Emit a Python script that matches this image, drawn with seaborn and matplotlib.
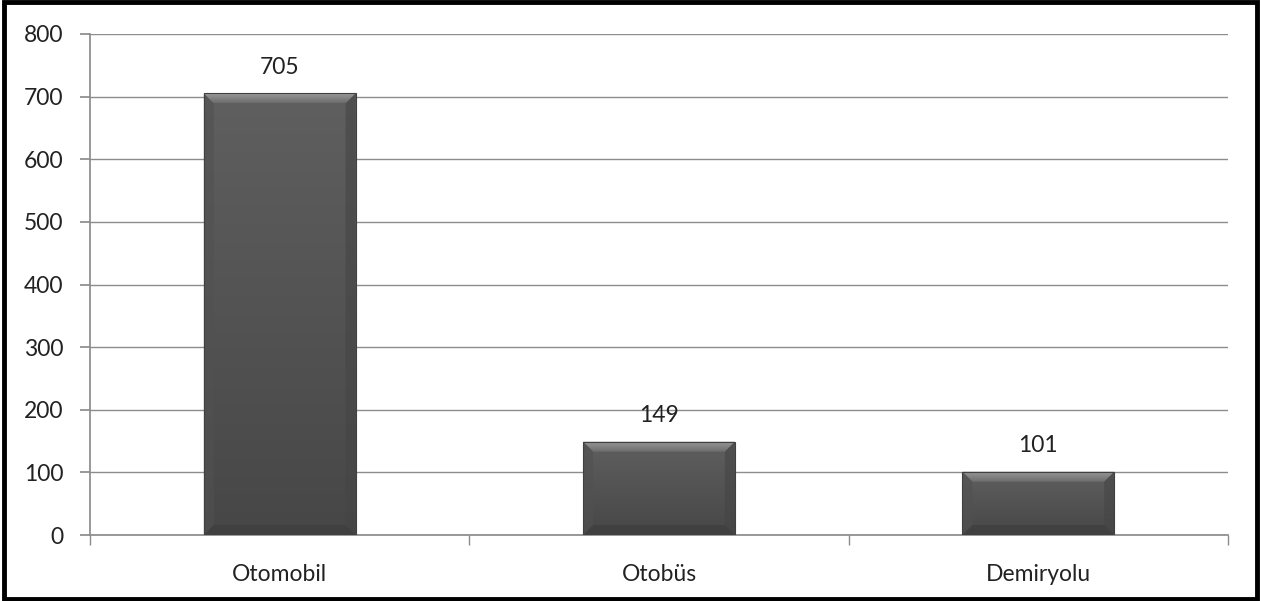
import matplotlib
matplotlib.use("Agg")
import matplotlib.pyplot as plt
import matplotlib.patches as mpatches
import numpy as np
import seaborn as sns
import pandas as pd

categories = ["Otomobil", "Otobüs", "Demiryolu"]
values = [705, 149, 101]
yticks = [0, 100, 200, 300, 400, 500, 600, 700, 800]

sns.set_theme(style="white")
plt.rcParams["font.family"] = ["Lato", "DejaVu Sans"]

df = pd.DataFrame({"kategori": categories, "deger": values})

fig = plt.figure(figsize=(12.61, 6.01), dpi=100)
ax = fig.add_axes([90 / 1261, 1 - 535 / 601, (1228 - 90) / 1261, (535 - 34) / 601])

sns.barplot(data=df, x="kategori", y="deger", color="#555555", width=0.40,
            saturation=1, ax=ax, zorder=3, edgecolor="none", linewidth=0)

ax.set_ylim(0, 800)
ax.set_xlim(-0.5, len(categories) - 0.5)

# convert pixel sizes of the bevel to data units
px_x = (len(categories)) / (1228 - 90)
px_y = 800 / (535 - 34)

body = np.linspace(0, 1, 64).reshape(-1, 1)
top_grad = np.linspace(0, 1, 32).reshape(-1, 1)
shade = matplotlib.colors.LinearSegmentedColormap.from_list("barshade", ["#474747", "#5f5f5f"])
topshade = matplotlib.colors.LinearSegmentedColormap.from_list("topshade", ["#6c6c6c", "#9a9a9a"])
for p in list(ax.patches)[:len(values)]:
    x0, y0 = p.get_x(), p.get_y()
    w, h = p.get_width(), p.get_height()
    # vertical shading of the bar body
    im = ax.imshow(body, cmap=shade, aspect="auto", extent=(x0, x0 + w, y0, y0 + h),
                   origin="lower", zorder=3.5, interpolation="bilinear")
    im.set_clip_path(p)
    bw = 10 * px_x
    bh = min(10 * px_y, h * 0.25)
    top = mpatches.Polygon([[x0, y0 + h], [x0 + w, y0 + h], [x0 + w - bw, y0 + h - bh],
                            [x0 + bw, y0 + h - bh]], closed=True, facecolor="none",
                           edgecolor="none", zorder=4)
    ax.add_patch(top)
    tim = ax.imshow(top_grad, cmap=topshade, aspect="auto",
                    extent=(x0, x0 + w, y0 + h - bh, y0 + h), origin="lower",
                    zorder=4, interpolation="bilinear")
    tim.set_clip_path(top)
    left = mpatches.Polygon([[x0, y0], [x0, y0 + h], [x0 + bw, y0 + h - bh], [x0 + bw, y0 + bh]],
                            closed=True, facecolor="#515151", alpha=0.6, edgecolor="none", zorder=4)
    right = mpatches.Polygon([[x0 + w, y0], [x0 + w, y0 + h], [x0 + w - bw, y0 + h - bh],
                              [x0 + w - bw, y0 + bh]], closed=True, facecolor="#454545", alpha=0.6,
                             edgecolor="none", zorder=4)
    bottom = mpatches.Polygon([[x0, y0], [x0 + w, y0], [x0 + w - bw, y0 + bh], [x0 + bw, y0 + bh]],
                              closed=True, facecolor="#3e3e3e", alpha=0.7, edgecolor="none", zorder=4)
    for poly in (left, right, bottom):
        ax.add_patch(poly)
    ax.add_patch(mpatches.Rectangle((x0, y0), w, h, facecolor="none", edgecolor="#404040",
                                    linewidth=0.8, zorder=5))

for i, v in enumerate(values):
    ax.annotate(str(v), (i, v), xytext=(0, 11), textcoords="offset points",
                ha="center", va="bottom", fontsize=16.5, color="#222222", zorder=6)

ax.set_yticks(yticks)
ax.yaxis.grid(True, color="#8c8c8c", linewidth=1.0, zorder=0)
ax.set_axisbelow(True)
ax.set_xlabel("")
ax.set_ylabel("")

for side in ("top", "right"):
    ax.spines[side].set_visible(False)
ax.spines["left"].set_color("#8c8c8c")
ax.spines["bottom"].set_color("#8c8c8c")

ax.tick_params(axis="y", which="major", length=7, color="#8c8c8c", labelsize=16.5,
               labelcolor="#222222", pad=12, direction="out", left=True)
ax.tick_params(axis="x", which="major", length=0, labelsize=16.5, labelcolor="#222222", pad=21)
ax.set_xticks([i - 0.5 for i in range(len(categories) + 1)], minor=True)
ax.tick_params(axis="x", which="minor", length=7, color="#8c8c8c", direction="out", bottom=True)

# outer black frame
fig.patches.append(mpatches.Rectangle((0.003, 0.004), 0.994, 0.992, transform=fig.transFigure,
                                      fill=False, edgecolor="black", linewidth=3.5))

fig.savefig("out.png", dpi=100)
